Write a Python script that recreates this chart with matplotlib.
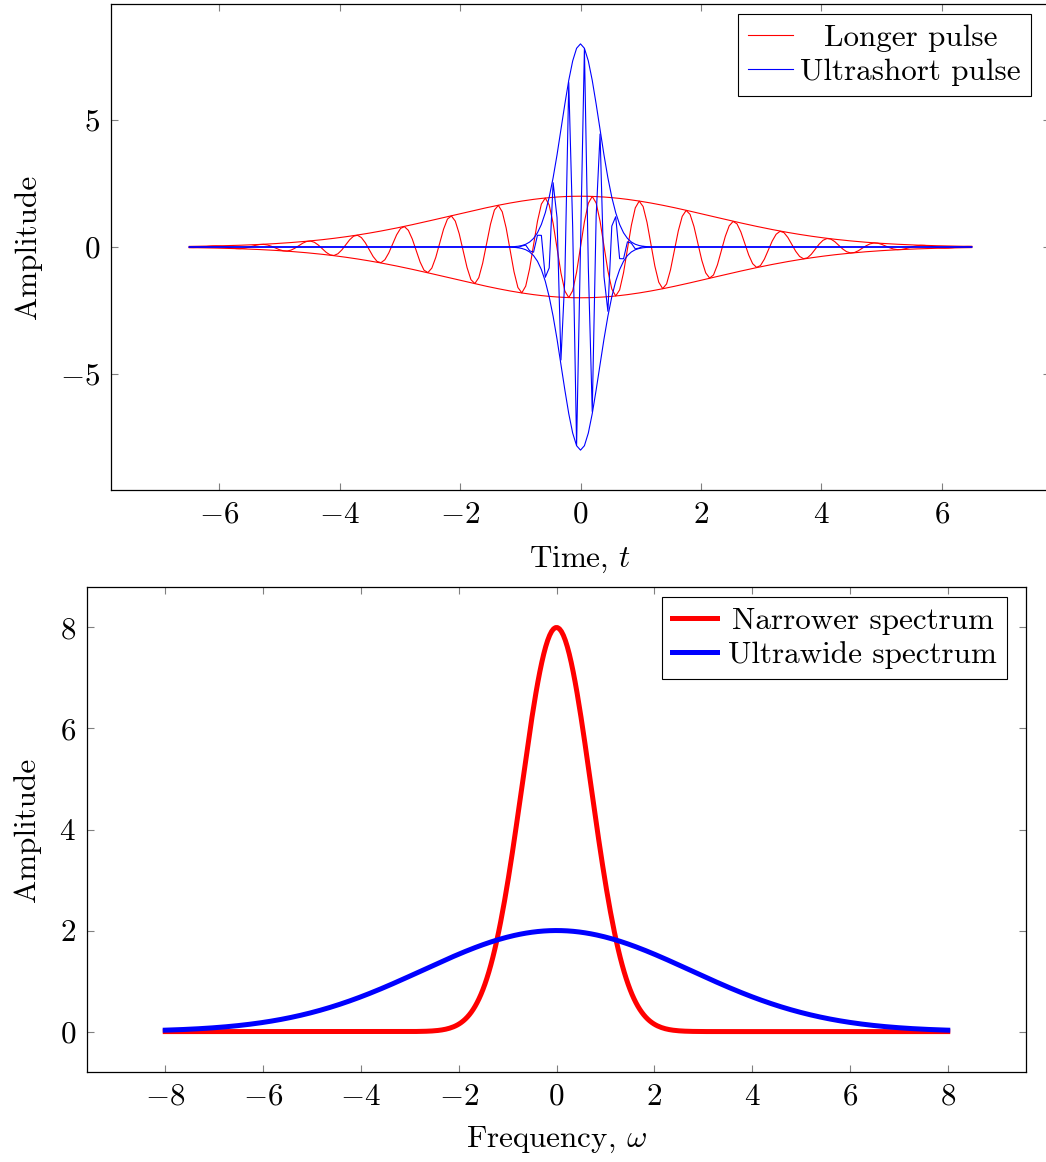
import numpy as np
import matplotlib
matplotlib.use("Agg")
import matplotlib.pyplot as plt
from matplotlib.transforms import Affine2D

# look of the pgfplots original
plt.rcParams['font.family'] = 'serif'
plt.rcParams['font.serif'] = ['cmr10']
plt.rcParams['mathtext.fontset'] = 'cm'
plt.rcParams['axes.formatter.use_mathtext'] = True
plt.rcParams['font.size'] = 22.4

# pulse parameters
t_domain = (-6.5, 6.5)
n_samples = 201
long_amp, long_width, long_freq = 2.0, 9.5, 8.0       # 2 exp(-t^2/9.5) sin(8t)
short_amp, short_rate, short_freq = 8.0, 5.2, 25.0    # 8 exp(-5.2 t^2) sin(25t)

# spectrum parameters
w_domain = (-8, 8)
narrow_amp, narrow_width = 8.0, 1.0
wide_amp, wide_width = 2.0, 15.0

top_xticks = [-6, -4, -2, 0, 2, 4, 6]
top_yticks = [-5, 0, 5]
bot_xticks = [-8, -6, -4, -2, 0, 2, 4, 6, 8]
bot_yticks = [0, 2, 4, 6, 8]

t = np.linspace(t_domain[0], t_domain[1], n_samples)
env_long = long_amp * np.exp(-t**2 / long_width)
env_short = short_amp * np.exp(-short_rate * t**2)

w = np.linspace(w_domain[0], w_domain[1], 400)
narrow = narrow_amp * np.exp(-w**2 / narrow_width)
wide = wide_amp * np.exp(-w**2 / wide_width)


def style(ax):
    ax.tick_params(direction='in', length=5, width=0.8, color='0.5',
                   top=True, right=True, pad=8)
    for s in ax.spines.values():
        s.set_linewidth(0.9)


def make_legend(ax, textpad):
    leg = ax.legend(loc='upper right', bbox_to_anchor=(0.98, 0.98), borderaxespad=0,
                    fancybox=False, framealpha=1, edgecolor='black', handlelength=1.45,
                    handletextpad=textpad, borderpad=0.33, labelspacing=0.2)
    leg.get_frame().set_linewidth(0.8)
    return leg


def center_legend_text(fig, leg):
    # pgfplots centres the legend texts inside their column
    fig.canvas.draw()
    r = fig.canvas.get_renderer()
    widths = [tx.get_window_extent(r).width for tx in leg.get_texts()]
    wmax = max(widths)
    for tx, wd in zip(leg.get_texts(), widths):
        tx.set_transform(tx.get_transform() + Affine2D().translate((wmax - wd) / 2, 0))


W, H = 1046, 1162
fig = plt.figure(figsize=(W / 100, H / 100), dpi=100)

ax1 = fig.add_axes([111 / W, 1 - 490 / H, 939 / W, 486 / H])
ax1.plot(t, env_long, color='red', lw=0.8)
ax1.plot(t, -env_long, color='red', lw=0.8)
ax1.plot(t, env_long * np.sin(long_freq * t), color='red', lw=0.8, label='Longer pulse')
ax1.plot(t, env_short, color='blue', lw=0.8)
ax1.plot(t, -env_short, color='blue', lw=0.8)
ax1.plot(t, env_short * np.sin(short_freq * t), color='blue', lw=0.8, label='Ultrashort pulse')
ax1.set_xlim(-7.8, 7.8)
ax1.set_ylim(-9.57, 9.57)
ax1.set_xticks(top_xticks)
ax1.set_yticks(top_yticks)
ax1.set_xlabel('Time, $t$', labelpad=12)
ax1.set_ylabel('Amplitude', labelpad=13)
style(ax1)
leg1 = make_legend(ax1, 0.22)

ax2 = fig.add_axes([87 / W, 1 - 1072 / H, 939 / W, 485 / H])
ax2.plot(w, narrow, color='red', lw=3.6, label='Narrower spectrum')
ax2.plot(w, wide, color='blue', lw=3.6, label='Ultrawide spectrum')
ax2.set_xlim(-9.6, 9.6)
ax2.set_ylim(-0.8, 8.8)
ax2.set_xticks(bot_xticks)
ax2.set_yticks(bot_yticks)
ax2.set_xlabel('Frequency, $\\omega$', labelpad=10)
ax2.set_ylabel('Amplitude', labelpad=13)
style(ax2)
leg2 = make_legend(ax2, 0.35)

center_legend_text(fig, leg1)
center_legend_text(fig, leg2)

fig.savefig('out.png', dpi=100)
